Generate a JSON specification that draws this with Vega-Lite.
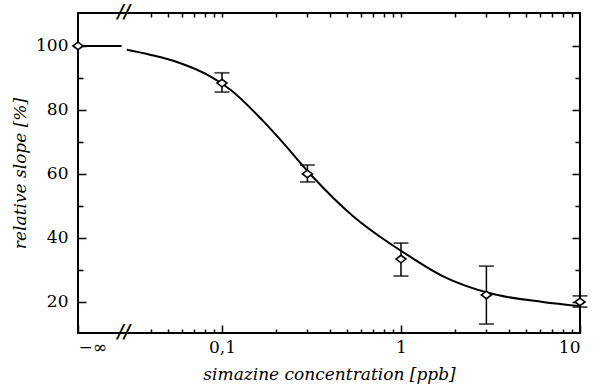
{
  "$schema": "https://vega.github.io/schema/vega-lite/v6.json",
  "width": 502,
  "height": 320,
  "autosize": "none",
  "padding": {"left": 78, "top": 13, "right": 24, "bottom": 54},
  "background": "white",
  "config": {
    "font": "DejaVu Serif",
    "view": {"stroke": "black", "strokeWidth": 2},
    "axis": {"grid": false, "domain": false, "tickColor": "black", "tickWidth": 1.5, "labelColor": "black", "titleColor": "black", "labelFont": "DejaVu Serif", "titleFont": "DejaVu Serif", "labelFontSize": 17, "titleFontSize": 17, "titleFontStyle": "italic", "titleFontWeight": "normal"}
  },
  "datasets": {
    "curve": [
      {"x": 0.01569, "y": 100, "seg": "a"},
      {"x": 0.0275, "y": 100, "seg": "a"},
      {"x": 0.0294, "y": 98.8, "seg": "b"},
      {"x": 0.04, "y": 97.2, "seg": "b"},
      {"x": 0.056, "y": 95, "seg": "b"},
      {"x": 0.086, "y": 90.5, "seg": "b"},
      {"x": 0.1, "y": 88.2, "seg": "b"},
      {"x": 0.111, "y": 86.4, "seg": "b"},
      {"x": 0.17, "y": 76.5, "seg": "b"},
      {"x": 0.211, "y": 70.8, "seg": "b"},
      {"x": 0.32, "y": 59.2, "seg": "b"},
      {"x": 0.54, "y": 46.8, "seg": "b"},
      {"x": 0.835, "y": 38.9, "seg": "b"},
      {"x": 1, "y": 36, "seg": "b"},
      {"x": 1.72, "y": 28, "seg": "b"},
      {"x": 3.14, "y": 22.7, "seg": "b"},
      {"x": 6.2, "y": 20, "seg": "b"},
      {"x": 10, "y": 18.7, "seg": "b"}
    ],
    "points": [
      {"x": 0.01569, "y": 100},
      {"x": 0.1, "y": 88.4, "lo": 85.6, "hi": 91.6},
      {"x": 0.3, "y": 60, "lo": 57.5, "hi": 62.8},
      {"x": 1, "y": 33.4, "lo": 28.1, "hi": 38.4},
      {"x": 3, "y": 22.2, "lo": 13.1, "hi": 31.2},
      {"x": 10, "y": 20, "lo": 18.4, "hi": 21.9}
    ],
    "breaks": [
      {"x": 0.0283, "y": 110.3},
      {"x": 0.0283, "y": 10.3}
    ]
  },
  "layer": [
    {
      "data": {"name": "curve"},
      "mark": {"type": "line", "color": "black", "strokeWidth": 2, "interpolate": "monotone"},
      "encoding": {
        "x": {"field": "x", "type": "quantitative", "scale": {"type": "log", "domain": [0.01569, 10], "nice": false},
          "axis": {"orient": "bottom", "values": [0.01569, 0.1, 1, 10], "tickSize": -8, "labelPadding": 14,
            "labelExpr": "datum.value < 0.05 ? '−∞' : (datum.value == 0.1 ? '0,1' : format(datum.value, 'd'))",
            "title": "simazine concentration [ppb]", "titlePadding": 11}},
        "y": {"field": "y", "type": "quantitative", "scale": {"domain": [10.3, 110.3], "nice": false, "zero": false},
          "axis": {"orient": "left", "values": [20, 40, 60, 80, 100], "tickSize": -8, "labelPadding": 18,
            "title": "relative slope [%]", "titlePadding": 6}},
        "detail": {"field": "seg"}
      }
    },
    {
      "data": {"name": "points"},
      "mark": {"type": "rule", "color": "black", "strokeWidth": 1.5},
      "encoding": {
        "x": {"field": "x", "type": "quantitative",
          "axis": {"orient": "bottom", "values": [0.04, 0.05, 0.06, 0.07, 0.08, 0.09, 0.2, 0.3, 0.4, 0.5, 0.6, 0.7, 0.8, 0.9, 2, 3, 4, 5, 6, 7, 8, 9], "tickSize": -4, "labels": false, "title": null}},
        "y": {"field": "lo", "type": "quantitative",
          "axis": {"orient": "left", "values": [30, 50, 70, 90], "tickSize": -5, "labels": false, "title": null}},
        "y2": {"field": "hi"}
      }
    },
    {
      "data": {"name": "points"},
      "transform": [{"filter": "isValid(datum.lo)"}],
      "mark": {"type": "tick", "orient": "horizontal", "color": "black", "thickness": 1.8, "size": 15},
      "encoding": {
        "x": {"field": "x", "type": "quantitative",
          "axis": {"orient": "top", "values": [0.04, 0.05, 0.06, 0.07, 0.08, 0.09, 0.1, 0.2, 0.3, 0.4, 0.5, 0.6, 0.7, 0.8, 0.9, 1, 2, 3, 4, 5, 6, 7, 8, 9], "tickSize": -4, "labels": false, "title": null}},
        "y": {"field": "lo", "type": "quantitative",
          "axis": {"orient": "right", "values": [20, 40, 60, 80, 100], "tickSize": -8, "labels": false, "title": null}}
      }
    },
    {
      "data": {"name": "points"},
      "transform": [{"filter": "isValid(datum.hi)"}],
      "mark": {"type": "tick", "orient": "horizontal", "color": "black", "thickness": 1.8, "size": 15},
      "encoding": {
        "x": {"field": "x", "type": "quantitative", "axis": null},
        "y": {"field": "hi", "type": "quantitative",
          "axis": {"orient": "right", "values": [30, 50, 70, 90], "tickSize": -5, "labels": false, "title": null}}
      }
    },
    {
      "data": {"name": "points"},
      "mark": {"type": "point", "shape": "M-1,0L0,-0.75L1,0L0,0.75Z", "filled": true, "fill": "white", "stroke": "black", "strokeWidth": 1.6, "size": 100, "opacity": 1, "fillOpacity": 1, "clip": false},
      "encoding": {
        "x": {"field": "x", "type": "quantitative", "axis": null},
        "y": {"field": "y", "type": "quantitative", "axis": null}
      }
    },
    {
      "data": {"name": "breaks"},
      "mark": {"type": "text", "text": "//", "font": "DejaVu Serif", "fontSize": 18, "fontStyle": "italic", "fontWeight": "bold", "color": "black", "baseline": "middle", "align": "center", "clip": false},
      "encoding": {
        "x": {"field": "x", "type": "quantitative", "axis": null},
        "y": {"field": "y", "type": "quantitative", "axis": null}
      }
    }
  ],
  "resolve": {"axis": {"x": "independent", "y": "independent"}}
}
